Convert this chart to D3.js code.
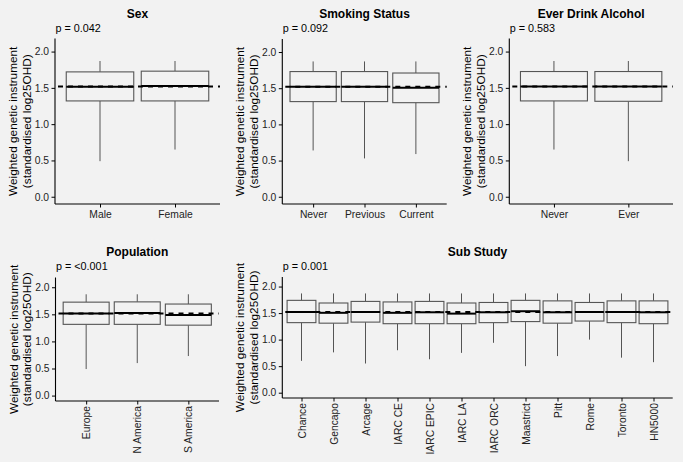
<!DOCTYPE html>
<html>
<head>
<meta charset="utf-8">
<script src="https://cdn.jsdelivr.net/npm/d3@7"></script>
<style>
html,body{margin:0;padding:0;background:#f2f2f2;}
svg{display:block;font-family:"Liberation Sans",Arial,Helvetica,sans-serif;}
</style>
</head>
<body>
<svg id="chart" width="683" height="462"></svg>
<script>
// ---- data: [lower whisker, Q1, median, Q3, upper whisker] ----
const sexCategories = ["Male", "Female"];
const sexStats = [[0.49, 1.32, 1.515, 1.72, 1.87], [0.65, 1.32, 1.525, 1.73, 1.87]];
const sexMean = 1.52;
const sexP = "p = 0.042";

const smokeCategories = ["Never", "Previous", "Current"];
const smokeStats = [[0.64, 1.315, 1.52, 1.73, 1.87], [0.53, 1.315, 1.52, 1.73, 1.87], [0.59, 1.30, 1.505, 1.71, 1.87]];
const smokeMean = 1.52;
const smokeP = "p = 0.092";

const alcoholCategories = ["Never", "Ever"];
const alcoholStats = [[0.65, 1.32, 1.52, 1.725, 1.87], [0.49, 1.315, 1.52, 1.725, 1.87]];
const alcoholMean = 1.52;
const alcoholP = "p = 0.583";

const popCategories = ["Europe", "N America", "S America"];
const popStats = [[0.49, 1.315, 1.515, 1.725, 1.87], [0.60, 1.315, 1.525, 1.73, 1.87], [0.73, 1.30, 1.49, 1.69, 1.87]];
const popMean = 1.515;
const popP = "p = <0.001";

const subCategories = ["Chance", "Gencapo", "Arcage", "IARC CE", "IARC EPIC", "IARC LA", "IARC ORC", "Maastrict", "Pitt", "Rome", "Toronto", "HN5000"];
const subStats = [
  [0.60, 1.32, 1.52, 1.74, 1.87],
  [0.76, 1.31, 1.505, 1.69, 1.87],
  [0.55, 1.33, 1.52, 1.72, 1.87],
  [0.80, 1.30, 1.505, 1.71, 1.87],
  [0.63, 1.30, 1.515, 1.72, 1.87],
  [0.75, 1.30, 1.49, 1.69, 1.87],
  [0.94, 1.32, 1.515, 1.70, 1.87],
  [0.50, 1.34, 1.535, 1.74, 1.87],
  [0.69, 1.31, 1.515, 1.73, 1.87],
  [1.00, 1.35, 1.52, 1.70, 1.87],
  [0.66, 1.32, 1.52, 1.73, 1.87],
  [0.575, 1.30, 1.515, 1.73, 1.87]
];
const subMean = 1.52;
const subP = "p = 0.001";

const yTicks = [0.0, 0.5, 1.0, 1.5, 2.0];
const yTitle1 = "Weighted genetic instrument";
const yTitle2 = "(standardised log25OHD)";

// ---- layout ----
const panels = [
  {title: "Sex", cats: sexCategories, stats: sexStats, mean: sexMean, p: sexP, x0: 55, x1: 220, top: 38.5, bottom: 204, rot: false, titleY: 18, pY: 32},
  {title: "Smoking Status", cats: smokeCategories, stats: smokeStats, mean: smokeMean, p: smokeP, x0: 282.3, x1: 446.7, top: 39, bottom: 204, rot: false, titleY: 18, pY: 32},
  {title: "Ever Drink Alcohol", cats: alcoholCategories, stats: alcoholStats, mean: alcoholMean, p: alcoholP, x0: 509.3, x1: 673, top: 38.5, bottom: 204, rot: false, titleY: 18, pY: 32},
  {title: "Population", cats: popCategories, stats: popStats, mean: popMean, p: popP, x0: 55.5, x1: 219, top: 277.5, bottom: 401, rot: true, titleY: 256, pY: 270},
  {title: "Sub Study", cats: subCategories, stats: subStats, mean: subMean, p: subP, x0: 282.3, x1: 672.7, top: 277, bottom: 398, rot: true, titleY: 256, pY: 270}
];

const svg = d3.select("#chart");
svg.append("rect").attr("width", 683).attr("height", 462).attr("fill", "#f2f2f2");
const FONT = "Liberation Sans, Arial, sans-serif";

panels.forEach(pn => {
  const g = svg.append("g");
  const y = d3.scaleLinear().domain([-0.1, 2.18]).range([pn.bottom, pn.top]);
  const n = pn.cats.length;
  // ggplot-like discrete expansion: 0.6 units each side
  const unit = (pn.x1 - pn.x0) / (n - 1 + 1.2);
  const xs = d3.scalePoint().domain(pn.cats)
    .range([pn.x0 + unit * 0.6, pn.x1 - unit * 0.6]);
  const bw = unit * 0.9;

  // boxes
  pn.cats.forEach((c, i) => {
    const s = pn.stats[i];
    const xc = xs(c);
    g.append("line").attr("x1", xc).attr("x2", xc).attr("y1", y(s[3])).attr("y2", y(s[4]))
      .attr("stroke", "#555").attr("stroke-width", 1);
    g.append("line").attr("x1", xc).attr("x2", xc).attr("y1", y(s[1])).attr("y2", y(s[0]))
      .attr("stroke", "#555").attr("stroke-width", 1);
    g.append("rect").attr("x", xc - bw / 2).attr("width", bw)
      .attr("y", y(s[3])).attr("height", y(s[1]) - y(s[3]))
      .attr("fill", "#f2f2f2").attr("stroke", "#555").attr("stroke-width", 1.1);
    g.append("line").attr("x1", xc - bw / 2).attr("x2", xc + bw / 2).attr("y1", y(s[2])).attr("y2", y(s[2]))
      .attr("stroke", "#000").attr("stroke-width", 2);
  });

  // mean dashed line
  g.append("line").attr("x1", pn.x0).attr("x2", pn.x1).attr("y1", y(pn.mean)).attr("y2", y(pn.mean))
    .attr("stroke", "#000").attr("stroke-width", 2).attr("stroke-dasharray", "5,5")
    .attr("stroke-dashoffset", -3);

  // y axis
  const ya = g.append("g").attr("transform", `translate(${pn.x0},0)`)
    .call(d3.axisLeft(y).tickValues(yTicks).tickFormat(d3.format(".1f")).tickSize(3.5).tickPadding(2.5).tickSizeOuter(0));
  ya.select(".domain").attr("stroke", "#000").attr("stroke-width", 1.1)
    .attr("d", `M0,${pn.top}V${pn.bottom}`);
  ya.selectAll(".tick line").attr("stroke", "#000");
  ya.selectAll(".tick text").attr("font-size", 10.3).attr("fill", "#222").attr("font-family", FONT);

  // x axis
  const xa = g.append("g").attr("transform", `translate(0,${pn.bottom})`)
    .call(d3.axisBottom(xs).tickSize(3.5).tickPadding(3).tickSizeOuter(0));
  xa.select(".domain").attr("stroke", "#000").attr("stroke-width", 1.1)
    .attr("d", `M${pn.x0},0H${pn.x1}`);
  xa.selectAll(".tick line").attr("stroke", "#000");
  xa.selectAll(".tick text").attr("font-size", 10.3).attr("fill", "#222").attr("font-family", FONT);
  if (pn.rot) {
    xa.selectAll(".tick text")
      .attr("transform", "rotate(-90)")
      .attr("text-anchor", "end")
      .attr("x", -5).attr("y", 0).attr("dy", "0.35em");
  }

  // titles
  g.append("text").attr("x", (pn.x0 + pn.x1) / 2).attr("y", pn.titleY)
    .attr("text-anchor", "middle").attr("font-weight", "bold").attr("font-size", 12).attr("fill", "#000")
    .text(pn.title);
  g.append("text").attr("x", pn.x0 + 0.5).attr("y", pn.pY)
    .attr("font-size", 10.8).attr("fill", "#000").text(pn.p);

  const ymid = (pn.top + pn.bottom) / 2;
  g.append("text").attr("transform", `translate(${pn.x0 - 42},${ymid}) rotate(-90)`)
    .attr("text-anchor", "middle").attr("dy", "0.35em").attr("font-size", 11.8).attr("fill", "#000").text(yTitle1);
  g.append("text").attr("transform", `translate(${pn.x0 - 28.5},${ymid}) rotate(-90)`)
    .attr("text-anchor", "middle").attr("dy", "0.35em").attr("font-size", 11.8).attr("fill", "#000").text(yTitle2);
});
</script>
</body>
</html>
